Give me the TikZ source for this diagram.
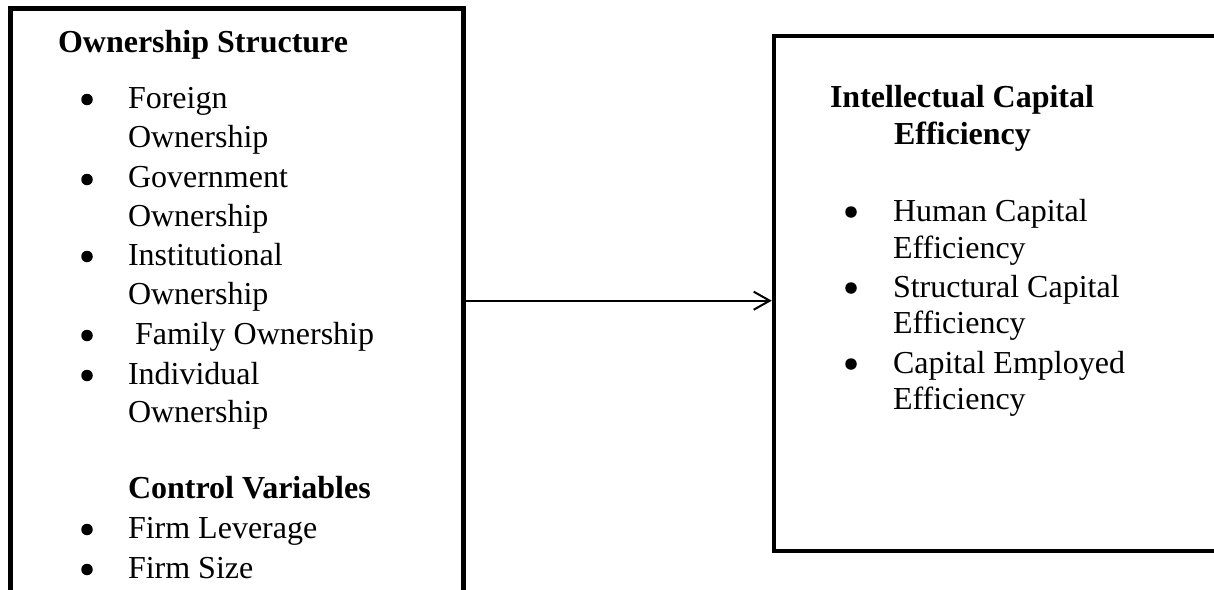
\documentclass[tikz,border=0pt]{standalone}
\usepackage{fontspec}
\setmainfont{Liberation Serif}
\usetikzlibrary{arrows.meta}
\tikzset{
  box/.style={draw=black, rectangle, fill=none, inner sep=0pt},
  txt/.style={anchor=base west, inner sep=0pt, outer sep=0pt, font=\fontsize{32}{39.5}\selectfont},
  head/.style={txt, font=\fontsize{32}{39.5}\selectfont\bfseries},
  dot/.style={circle, fill=black, inner sep=0pt, minimum size=11.5pt},
  link/.style={line width=2pt, -{Straight Barb[length=16pt,width=18pt,line width=2pt]}}
}
\begin{document}
\begin{tikzpicture}[x=1pt,y=-1pt]
\useasboundingbox (0,0) rectangle (1214,589);
% boxes
\node[box, line width=5pt, minimum width=452.2pt, minimum height=631.5pt] (leftbox) at (236.9,324.25) {};
\node[box, line width=4.5pt, minimum width=443pt, minimum height=515pt] (rightbox) at (995.5,293.3) {};
% left box texts
\node[head] (hOS) at (58,52) {Ownership Structure};
\node[dot] (b1) at (87,99.5) {};
\node[txt] (t1a) at (128,108) {Foreign};
\node[txt] (t1b) at (128,147) {Ownership};
\node[dot] (b2) at (87,179.5) {};
\node[txt] (t2a) at (128,187.5) {Government};
\node[txt] (t2b) at (128,226) {Ownership};
\node[dot] (b3) at (87,256.5) {};
\node[txt] (t3a) at (128,265) {Institutional};
\node[txt] (t3b) at (128,304.5) {Ownership};
\node[dot] (b4) at (87,335.5) {};
\node[txt] (t4a) at (135,344) {Family Ownership};
\node[dot] (b5) at (87,375.5) {};
\node[txt] (t5a) at (128,384) {Individual};
\node[txt] (t5b) at (128,422) {Ownership};
\node[head] (hCV) at (128,498) {Control Variables};
\node[dot] (b6) at (87,529.5) {};
\node[txt] (t6a) at (128,538) {Firm Leverage};
\node[dot] (b7) at (87,569.5) {};
\node[txt] (t7a) at (128,578) {Firm Size};
% right box texts
\node[head] (hIC1) at (830,107) {Intellectual Capital};
\node[head] (hIC2) at (894,144) {Efficiency};
\node[dot] (r1) at (851,212) {};
\node[txt] (r1a) at (893,221) {Human Capital};
\node[txt] (r1b) at (893,258) {Efficiency};
\node[dot] (r2) at (851,288) {};
\node[txt] (r2a) at (893,297) {Structural Capital};
\node[txt] (r2b) at (893,333) {Efficiency};
\node[dot] (r3) at (851,364) {};
\node[txt] (r3a) at (893,373) {Capital Employed};
\node[txt] (r3b) at (893,409) {Efficiency};
% connector
\coordinate (arY) at (0,300.7);
\draw[link] (leftbox.east |- arY) -- (rightbox.west |- arY);
\end{tikzpicture}
\end{document}
